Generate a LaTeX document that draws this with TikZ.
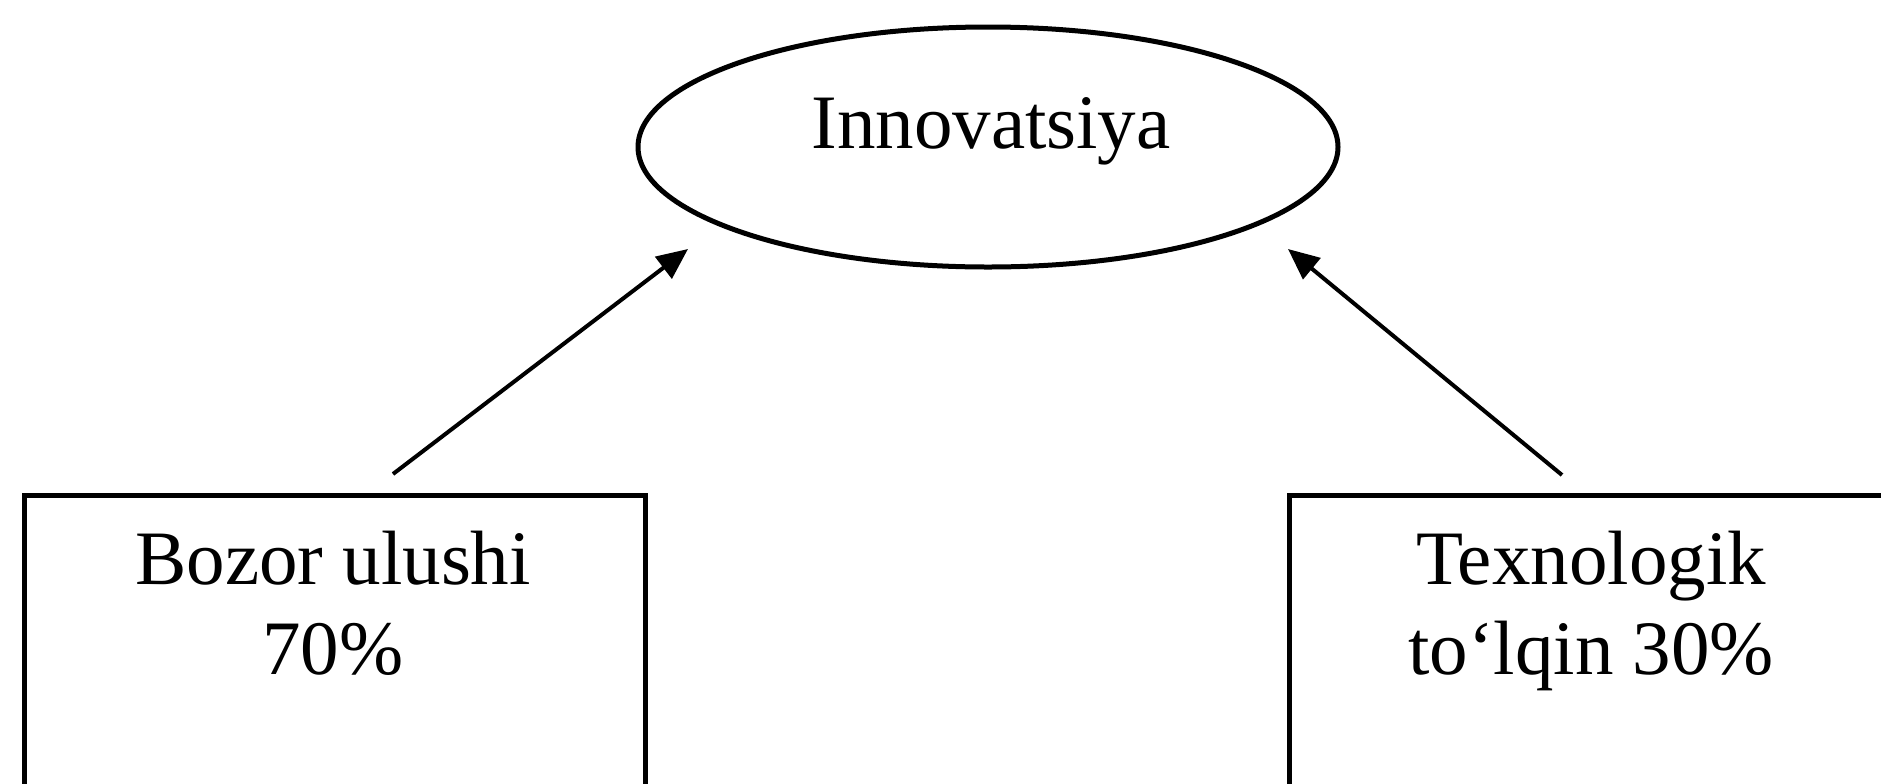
\documentclass[tikz,border=0pt]{standalone}
\usepackage{fontspec}
\setmainfont{Liberation Serif}
\usetikzlibrary{shapes.geometric,arrows.meta}
\tikzset{
  boxshape/.style={draw, line width=2.4pt, rectangle, anchor=north west, inner sep=0pt},
  ovalshape/.style={draw, line width=2.5pt, ellipse, inner sep=0pt, minimum width=350pt, minimum height=120pt},
  lbl/.style={anchor=base, inner sep=0pt, font=\fontsize{38.5}{45}\selectfont},
  arr/.style={line width=2pt, -{Triangle[length=15.5pt,width=13.5pt]}}
}
\begin{document}
\begin{tikzpicture}[x=0.5pt,y=-0.5pt]
\useasboundingbox (0,0) rectangle (1881,783);
\fill[white] (0,0) rectangle (1881,783);
% ellipse
\node[ovalshape] (inn) at (988,147) {};
\node[lbl] (innt) at (991,148) {Innovatsiya};
% boxes
\node[boxshape, minimum width=310.5pt, minimum height=200pt] (lbox) at (22,493) {};
\node[boxshape, minimum width=310.5pt, minimum height=200pt] (rbox) at (1287,493) {};
\node[lbl] (l1) at (333,584) {Bozor ulushi};
\node[lbl] (l2) at (333,674) {70\%};
\node[lbl] (r1) at (1591,584) {Texnologik};
\node[lbl] (r2) at (1591,674) {to‘lqin 30\%};
% arrows
\coordinate (ltail) at (393,474);
\coordinate (ltip) at (688,249);
\coordinate (rtail) at (1562,475);
\coordinate (rtip) at (1288,249);
\draw[arr] (ltail) -- (ltip);
\draw[arr] (rtail) -- (rtip);
\end{tikzpicture}
\end{document}
